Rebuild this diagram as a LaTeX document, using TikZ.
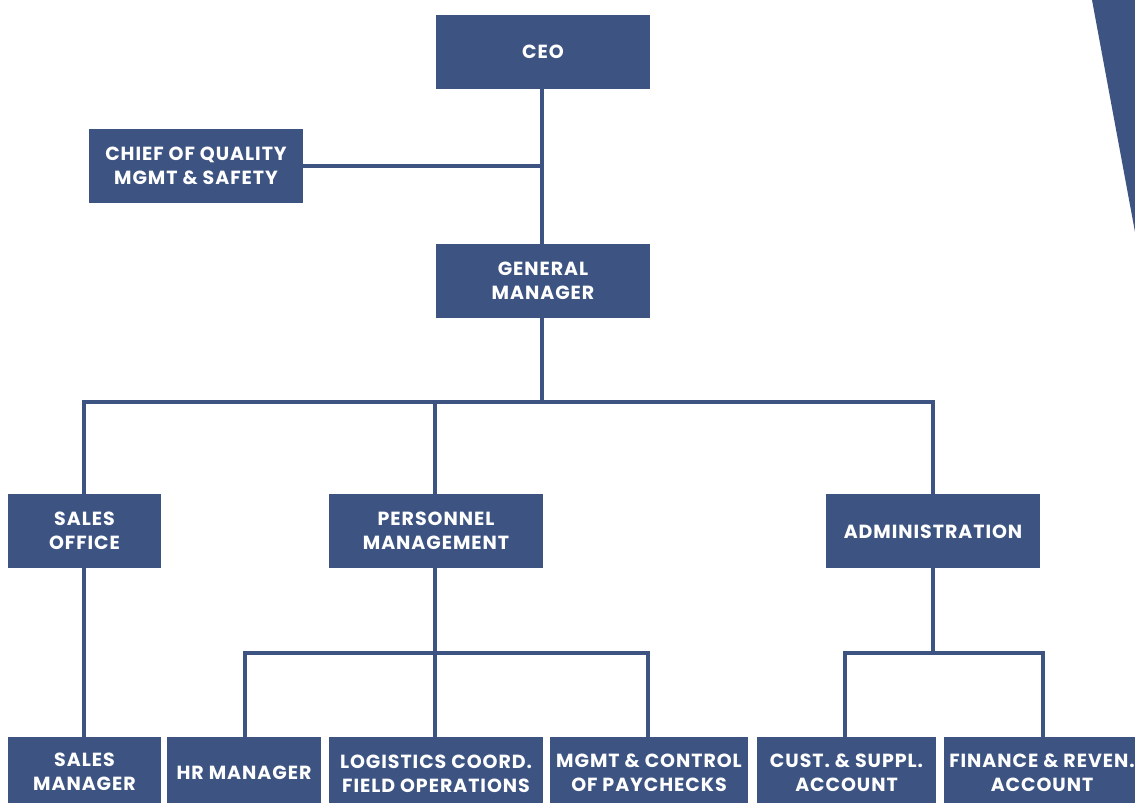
\documentclass[tikz,border=0pt]{standalone}
\usepackage{fontspec}
\setmainfont{Poppins}
\definecolor{navy}{HTML}{3D5482}
\begin{document}
\begin{tikzpicture}[x=1pt,y=-1pt,
  box/.style={fill=navy,text=white,font=\bfseries\fontsize{19}{24}\selectfont\addfontfeature{LetterSpace=5},align=center,inner sep=0pt},
  link/.style={draw=navy,line width=4.5pt}]
\useasboundingbox (0,0) rectangle (1135,803);
\fill[navy] (1092,0) -- (1135,0) -- (1135,232) -- cycle;
% boxes
\fill[navy] (436,15) rectangle (650,89);
\node[box] (ceo) at (543,52) {CEO};
\fill[navy] (89,129) rectangle (303,203);
\node[box] (chief) at (196,166) {CHIEF OF QUALITY\\MGMT \& SAFETY};
\fill[navy] (436,244) rectangle (650,318);
\node[box] (gm) at (543,281) {GENERAL\\MANAGER};
\fill[navy] (8,494) rectangle (161,568);
\node[box] (so) at (84.5,531) {SALES\\OFFICE};
\fill[navy] (329,494) rectangle (543,568);
\node[box] (pm) at (436,531) {PERSONNEL\\MANAGEMENT};
\fill[navy] (826,494) rectangle (1040,568);
\node[box] (adm) at (933,532) {ADMINISTRATION};
\fill[navy] (8,737) rectangle (161,803);
\node[box] (sm) at (84.5,772) {SALES\\MANAGER};
\fill[navy] (167,737) rectangle (321,803);
\node[box] (hr) at (244,773) {HR MANAGER};
\fill[navy] (329,737) rectangle (543,803);
\node[box] (lc) at (436,774) {LOGISTICS COORD.\\FIELD OPERATIONS};
\fill[navy] (550,737) rectangle (748,803);
\node[box] (mc) at (649,773) {MGMT \& CONTROL\\OF PAYCHECKS};
\fill[navy] (757,737) rectangle (936,803);
\node[box] (cs) at (846.5,773) {CUST. \& SUPPL.\\ACCOUNT};
\fill[navy] (944,737) rectangle (1135,803);
\node[box] (fr) at (1042,773) {FINANCE \& REVEN.\\ACCOUNT};
% coordinates
\coordinate (ceoB) at (542,89);
\coordinate (gmT) at (542,244);
\coordinate (gmB) at (542,318);
\coordinate (chiefR) at (303,166);
\coordinate (chiefJ) at (542,166);
\coordinate (bus1) at (542,402);
\coordinate (b1a) at (84,402);
\coordinate (b1b) at (435,402);
\coordinate (b1c) at (933,402);
% links
\draw[link] (ceoB) -- (gmT);
\draw[link] (chiefR) -- (chiefJ);
\draw[link] (gmB) -- (bus1);
\draw[link] (84,494) -- (b1a) -- (b1c) -- (933,494);
\draw[link] (b1b) -- (435,494);
\draw[link] (84,568) -- (84,737);
\draw[link] (435,568) -- (435,737);
\draw[link] (245,737) -- (245,653) -- (648,653) -- (648,737);
\draw[link] (933,568) -- (933,653);
\draw[link] (845,737) -- (845,653) -- (1043,653) -- (1043,737);
\end{tikzpicture}
\end{document}
